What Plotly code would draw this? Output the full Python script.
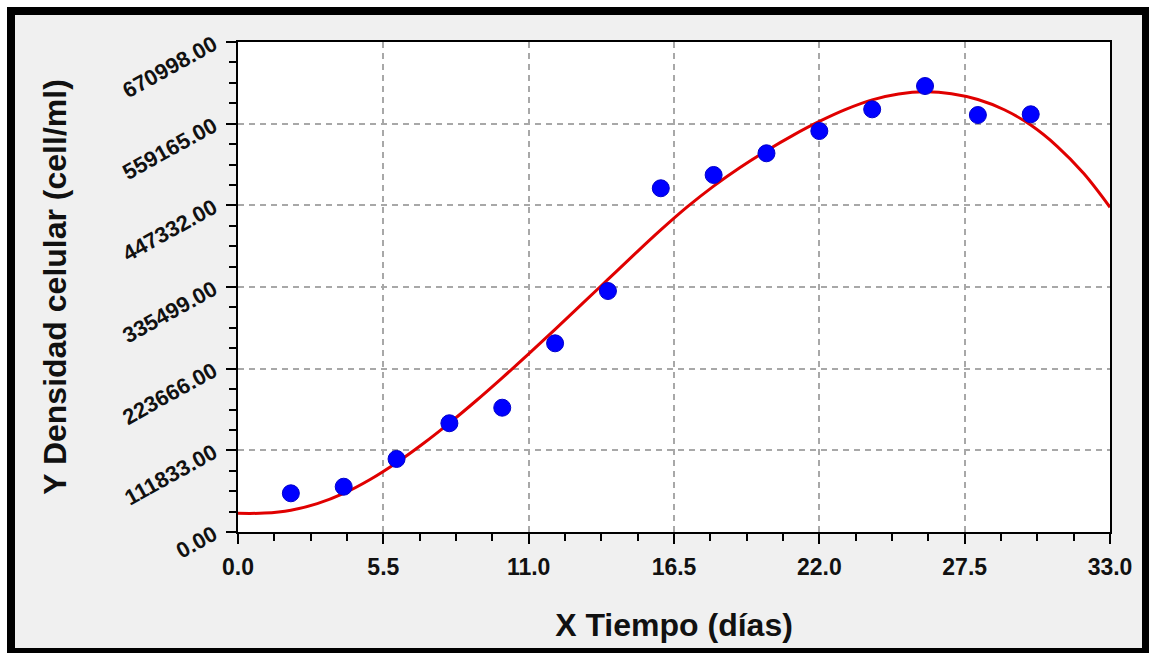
import plotly.graph_objects as go

# Measured data points (X Tiempo, Y Densidad celular)
dias = [2, 4, 6, 8, 10, 12, 14, 16, 18, 20, 22, 24, 26, 28, 30]
densidad = [53000, 62000, 100000, 148900, 170200, 258400, 330000, 470700,
            488900, 518600, 549100, 578800, 610700, 571000, 572000]

# Fitted curve
curva_x = [0, 1, 2, 3, 4, 5, 6, 7, 8, 9, 10, 11, 12, 13, 14, 15, 16, 17,
           18, 19, 20, 21, 22, 23, 24, 25, 26, 27, 28, 29, 30, 31, 32, 33]
curva_y = [25600, 25900, 29900, 38900, 52900, 71900, 94900, 120900, 149200,
           179400, 211100, 243900, 277500, 311600, 345900, 380200, 413700,
           445200, 473700, 499200, 522200, 543200, 562200, 578700, 591700,
           599700, 602700, 600200, 592200, 578200, 557200, 528200, 491200,
           444700]

x_ticks = [0, 5.5, 11, 16.5, 22, 27.5, 33]
x_labels = ["0.0", "5.5", "11.0", "16.5", "22.0", "27.5", "33.0"]
y_ticks = [0, 111833, 223666, 335499, 447332, 559165, 670998]
y_labels = ["0.00", "111833.00", "223666.00", "335499.00", "447332.00",
            "559165.00", "670998.00"]

W, H = 1151, 655
L, R, T, B = 238, 1110, 42, 532
PW, PH = R - L, B - T


def px(x):
    return (x - L) / PW


def py(y):
    return (B - y) / PH


fig = go.Figure()
fig.add_trace(go.Scatter(x=curva_x, y=curva_y, mode="lines",
                         line=dict(color="#e00000", width=3, shape="spline",
                                   smoothing=1.0),
                         showlegend=False, hoverinfo="skip"))
fig.add_trace(go.Scatter(x=dias, y=densidad, mode="markers",
                         marker=dict(color="#0000ff", size=17,
                                     line=dict(color="#0000cc", width=1)),
                         showlegend=False))

font = "Liberation Sans, Arial, sans-serif"
axis_common = dict(
    showline=True, linewidth=2, linecolor="black", mirror=True,
    ticks="outside", ticklen=10, tickwidth=2, tickcolor="black",
    showgrid=True, gridcolor="#a8a8a8", gridwidth=1.5, griddash="6px,5px",
    zeroline=False,
)

fig.update_xaxes(
    range=[0, 33], tickmode="array", tickvals=x_ticks, ticktext=x_labels,
    tickfont=dict(family=font, size=23, color="#111111", weight="bold"),
    ticklabelstandoff=3,
    minor=dict(dtick=1.375, tick0=0, ticks="outside", ticklen=7, tickwidth=2,
               tickcolor="black", showgrid=False),
    title=dict(text="X Tiempo (días)", standoff=35,
               font=dict(family=font, size=32, color="#111111", weight="bold")),
    **axis_common,
)
fig.update_yaxes(
    range=[0, 670998], tickmode="array", tickvals=y_ticks, ticktext=y_labels,
    tickangle=-29,
    tickfont=dict(family=font, size=22, color="#111111", weight="bold"),
    ticklabelstandoff=8,
    minor=dict(dtick=111833 / 4, tick0=0, ticks="outside", ticklen=7,
               tickwidth=2, tickcolor="black", showgrid=False),
    title=dict(text="Y Densidad celular (cell/ml)", standoff=42,
               font=dict(family=font, size=32, color="#111111", weight="bold")),
    **axis_common,
)

shapes = []
for x0, y0, x1, y1, col in [
    (0, 0, W, 7, "white"), (0, 0, 7, H, "white"),
    (0, 653, W, H, "white"), (1149, 0, W, H, "white"),
    (7, 7, 1149, 15, "black"), (7, 7, 15, 653, "black"),
    (7, 648, 1149, 653, "black"), (1142, 7, 1149, 653, "black"),
]:
    shapes.append(dict(type="rect", xref="paper", yref="paper",
                       x0=px(x0), x1=px(x1), y0=py(y1), y1=py(y0),
                       fillcolor=col, line=dict(width=0), layer="above"))

fig.update_layout(
    width=W, height=H,
    margin=dict(l=L, r=W - R, t=T, b=H - B, autoexpand=False),
    paper_bgcolor="#f0f0f0", plot_bgcolor="white",
    shapes=shapes,
)

fig.write_html("out.html")
